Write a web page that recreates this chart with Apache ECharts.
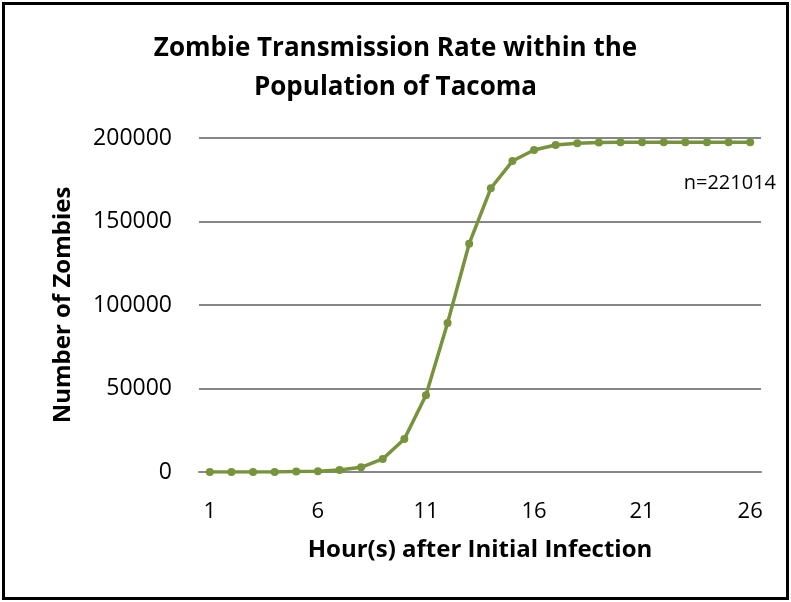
<!DOCTYPE html>
<html><head><meta charset="utf-8">
<script src="https://cdn.jsdelivr.net/npm/echarts@6/dist/echarts.min.js"></script>
<style>
html,body{margin:0;padding:0;background:#fff;}
#frame{position:absolute;left:2px;top:2px;width:781px;height:592px;border:3px solid #000;background:#fff;}
#c{position:absolute;left:0;top:0;width:781px;height:592px;}
</style></head>
<body><div id="frame"><div id="c"></div></div>
<script>
const hours = ['1','2','3','4','5','6','7','8','9','10','11','12','13','14','15','16','17','18','19','20','21','22','23','24','25','26'];
const zombies = [0,0,0,0,300,500,1200,2800,7800,19800,45900,89200,136700,169900,186200,192800,195800,196800,197300,197400,197400,197400,197400,197400,197400,197400];
const yTicks = [0,50000,100000,150000,200000];
const noteText = 'n=221014';
const titleText = 'Zombie Transmission Rate within the\nPopulation of Tacoma';

const chart = echarts.init(document.getElementById('c'));
const FONT = 'Open Sans';
chart.setOption({
  animation:false,
  backgroundColor:'#fff',
  title:{text:titleText,left:'center',top:19,
    textStyle:{fontFamily:FONT,fontWeight:'bold',fontSize:26,color:'#000',lineHeight:39}},
  grid:{left:194,right:25,top:133,bottom:125},
  xAxis:{type:'category',data:hours,boundaryGap:true,
    name:'Hour(s) after Initial Infection',nameLocation:'middle',nameGap:66,
    nameTextStyle:{fontFamily:FONT,fontWeight:'bold',fontSize:24,color:'#000'},
    axisLine:{lineStyle:{color:'#868686',width:2}},axisTick:{show:false},
    axisLabel:{interval:4,fontFamily:FONT,fontSize:22,color:'#000',margin:29}},
  yAxis:{type:'value',min:yTicks[0],max:yTicks[yTicks.length-1],interval:50000,
    name:'Number of Zombies',nameLocation:'middle',nameGap:124,
    nameTextStyle:{fontFamily:FONT,fontWeight:'bold',fontSize:24,color:'#000'},
    axisLine:{show:false},axisTick:{show:false},
    axisLabel:{fontFamily:FONT,fontSize:23,color:'#000',margin:27,formatter:v=>String(v)},
    splitLine:{lineStyle:{color:'#868686',width:2}}},
  graphic:[{type:'text',right:10,top:168,style:{text:noteText,fontFamily:FONT,fontSize:20,fill:'#000'}}],
  series:[{type:'line',data:zombies,symbol:'circle',symbolSize:8,
    lineStyle:{color:'#77933C',width:3.5},itemStyle:{color:'#77933C'}}]
});
</script></body></html>
